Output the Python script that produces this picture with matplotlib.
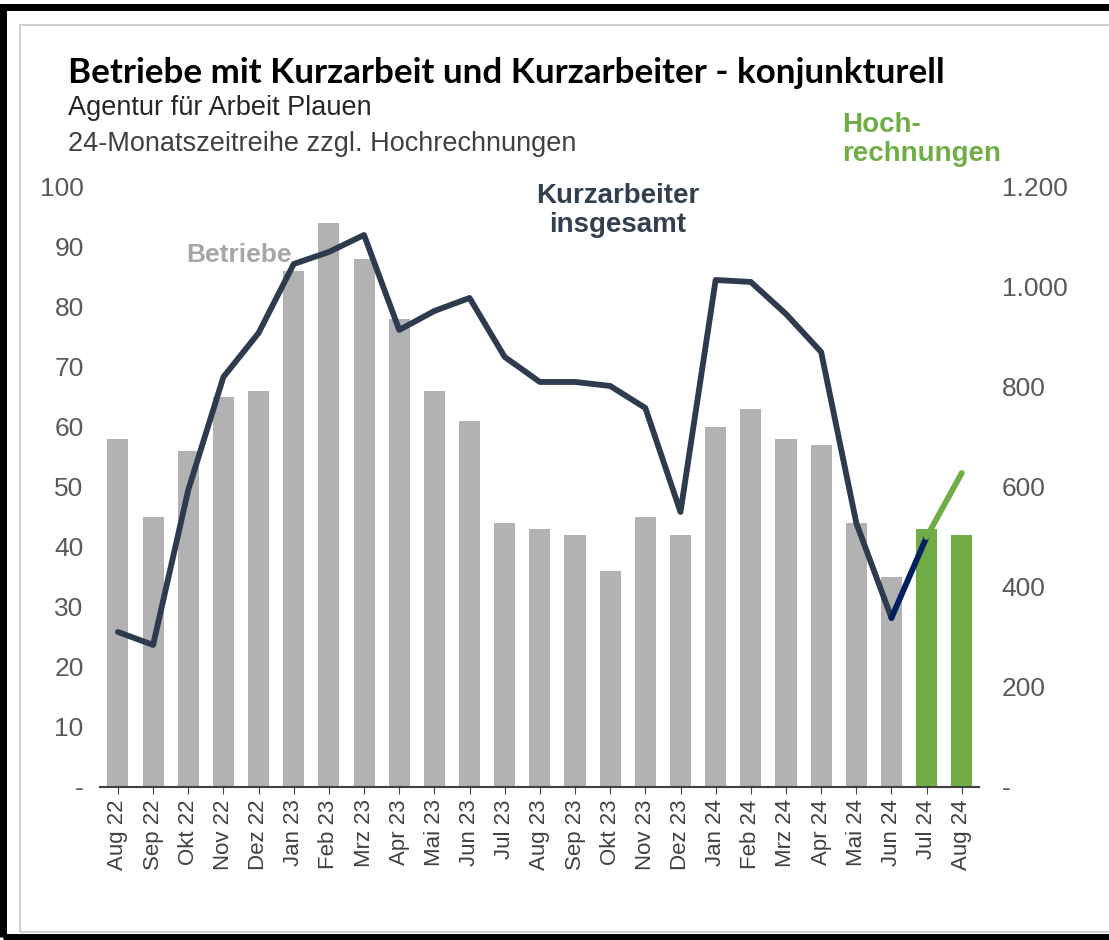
import matplotlib.pyplot as plt
from matplotlib.patches import Rectangle
from matplotlib.ticker import FuncFormatter

plt.rcParams['font.family'] = ['Liberation Sans', 'DejaVu Sans']

# Daten
monate = ['Aug 22', 'Sep 22', 'Okt 22', 'Nov 22', 'Dez 22', 'Jan 23', 'Feb 23', 'Mrz 23',
          'Apr 23', 'Mai 23', 'Jun 23', 'Jul 23', 'Aug 23', 'Sep 23', 'Okt 23', 'Nov 23',
          'Dez 23', 'Jan 24', 'Feb 24', 'Mrz 24', 'Apr 24', 'Mai 24', 'Jun 24', 'Jul 24', 'Aug 24']
betriebe = [58, 45, 56, 65, 66, 86, 94, 88, 78, 66, 61, 44, 43, 42, 36, 45, 42, 60, 63, 58, 57, 44, 35, 43, 42]
kurzarbeiter = [310, 284, 594, 820, 908, 1046, 1070, 1104, 914, 952, 978, 860, 810, 810, 802, 758,
                550, 1014, 1010, 946, 870, 528, 338, 500, 628]
n_hochrechnung = 2

grau = '#B2B2B2'
gruen = '#70AD47'
dunkel = '#2E3A4E'
navy = '#002060'

fig = plt.figure(figsize=(11.09, 9.40), dpi=100)

# Rahmen
fig.patches.append(Rectangle((0.003, 0.003), 1.2, 0.99, transform=fig.transFigure,
                             fill=False, edgecolor='black', linewidth=5, zorder=0))
fig.patches.append(Rectangle((0.018, 0.008), 1.2, 0.965, transform=fig.transFigure,
                             fill=False, edgecolor='#C8C8C8', linewidth=1.2, zorder=0))

ax = fig.add_axes([0.0905, 0.1628, 0.7926, 0.6383])
ax2 = ax.twinx()

x = list(range(len(monate)))
farben = [grau] * (len(monate) - n_hochrechnung) + [gruen] * n_hochrechnung
ax.bar(x, betriebe, width=0.6, color=farben, zorder=2)

# Linie: Ist-Werte, Übergang, Hochrechnung
k = len(monate) - n_hochrechnung
ax2.plot(x[:k], kurzarbeiter[:k], color=dunkel, linewidth=4.2, solid_capstyle='round',
         solid_joinstyle='round', zorder=3)
ax2.plot(x[k - 1:k + 1], kurzarbeiter[k - 1:k + 1], color=navy, linewidth=4.2,
         solid_capstyle='round', zorder=3)
ax2.plot(x[k:], kurzarbeiter[k:], color=gruen, linewidth=4.2, solid_capstyle='round', zorder=3)

ax.set_xlim(-0.5, len(monate) - 0.5)
ax.set_ylim(0, 100)
ax2.set_ylim(0, 1200)
ax.set_yticks(range(0, 101, 10))
ax2.set_yticks(range(0, 1201, 200))


def fmt_links(v, pos):
    return '-' if v == 0 else '%d' % v


def fmt_rechts(v, pos):
    return '-' if v == 0 else '{:,.0f}'.format(v).replace(',', '.')


ax.yaxis.set_major_formatter(FuncFormatter(fmt_links))
ax2.yaxis.set_major_formatter(FuncFormatter(fmt_rechts))
ax.set_xticks(x)
ax.set_xticklabels(monate, rotation=90)

for a in (ax, ax2):
    for s in a.spines.values():
        s.set_visible(False)
ax.spines['bottom'].set_visible(True)
ax.spines['bottom'].set_color('#404040')
ax.spines['bottom'].set_linewidth(1.5)
ax.tick_params(axis='y', length=0, labelsize=19, labelcolor='#595959', pad=12)
ax2.tick_params(axis='y', length=0, labelsize=19, labelcolor='#595959', pad=16)
ax.tick_params(axis='x', length=5, color='#404040', labelsize=16, labelcolor='#404040', pad=4)

# Texte
fig.text(0.061, 0.922, 'Betriebe mit Kurzarbeit und Kurzarbeiter - konjunkturell',
         fontsize=25.2, fontweight='bold', family=['Lato', 'DejaVu Sans'], color='black', va='center')
fig.text(0.061, 0.885, 'Agentur für Arbeit Plauen', fontsize=19.5, color='#262626', va='center')
fig.text(0.061, 0.847, '24-Monatszeitreihe zzgl. Hochrechnungen', fontsize=19.5, color='#404040',
         va='center')
fig.text(0.759, 0.852, 'Hoch-\nrechnungen', fontsize=20, fontweight='bold', color=gruen,
         va='center', linespacing=1.15)
fig.text(0.168, 0.729, 'Betriebe', fontsize=19, fontweight='bold', color='#A6A6A6', va='center')
fig.text(0.557, 0.776, 'Kurzarbeiter\ninsgesamt', fontsize=20, fontweight='bold', color='#333F50',
         va='center', ha='center', linespacing=1.15)

fig.savefig('out.png', dpi=100)
